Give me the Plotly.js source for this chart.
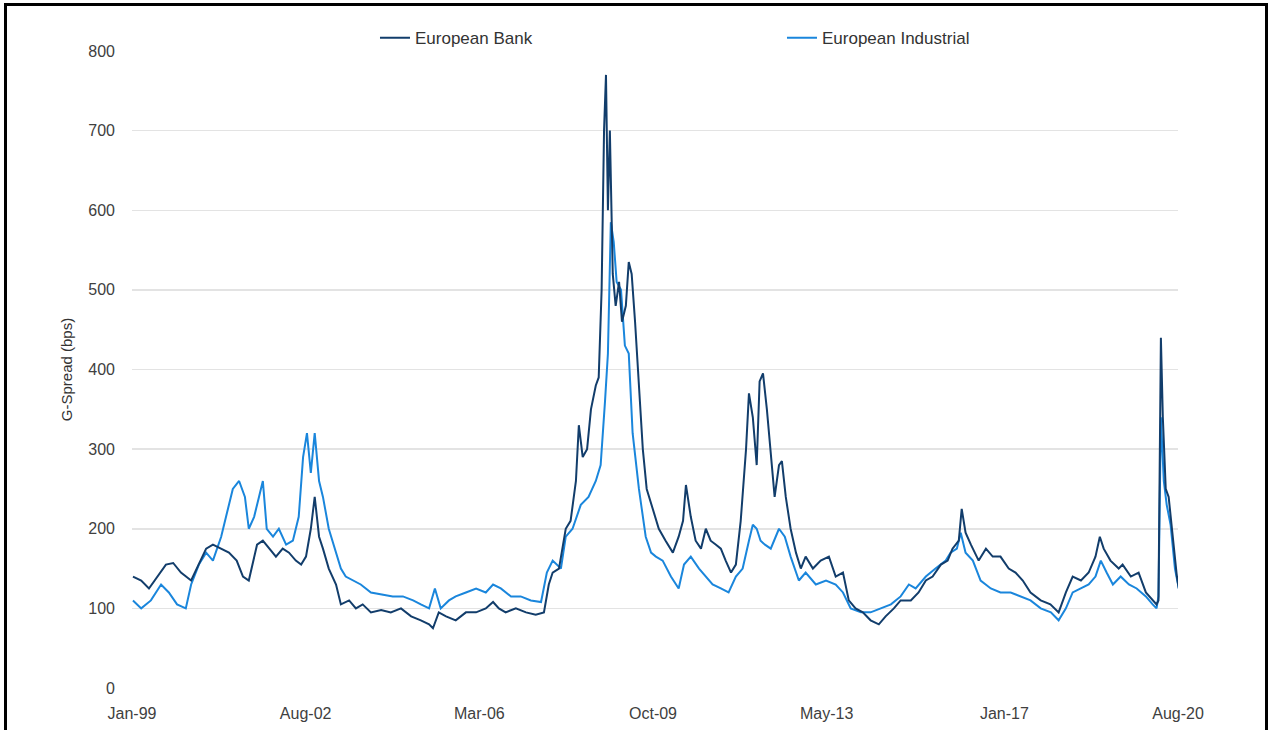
<!DOCTYPE html>
<html>
<head>
<meta charset="utf-8">
<script src="https://cdn.plot.ly/plotly-3.0.1.min.js"></script>
<style>
  html, body { margin: 0; padding: 0; background: #fff; }
  #wrap { position: relative; width: 1268px; height: 730px; overflow: hidden; }
  #chart { position: absolute; left: 0; top: 0; width: 1268px; height: 730px; }
  .frame { position: absolute; background: #000; }
</style>
</head>
<body>
<div id="wrap">
  <div id="chart"></div>
  <div class="frame" style="left:4px; top:3px; width:3px; height:727px;"></div>
  <div class="frame" style="left:4px; top:3px; width:1264px; height:3px;"></div>
  <div class="frame" style="left:1265px; top:3px; width:3px; height:727px;"></div>
</div>
<script>
// Tick labels (x axis, decimal-year positions and their labels)
const tickYears = [1999.0, 2002.583, 2006.167, 2009.75, 2013.333, 2017.0, 2020.583];
const tickLabels = ["Jan-99", "Aug-02", "Mar-06", "Oct-09", "May-13", "Jan-17", "Aug-20"];

// European Bank G-spread (bps)
const bankDates = [1999.02,1999.19,1999.35,1999.52,1999.70,1999.85,2000.01,2000.22,2000.34,2000.53,2000.67,2000.84,2001.00,2001.16,2001.29,2001.41,2001.58,2001.70,2001.83,2001.97,2002.11,2002.24,2002.38,2002.49,2002.59,2002.69,2002.77,2002.86,2002.94,2003.06,2003.21,2003.31,2003.48,2003.62,2003.76,2003.93,2004.14,2004.34,2004.55,2004.76,2004.96,2005.13,2005.21,2005.33,2005.48,2005.68,2005.89,2006.10,2006.30,2006.45,2006.57,2006.71,2006.92,2007.13,2007.33,2007.50,2007.60,2007.68,2007.81,2007.95,2008.05,2008.16,2008.22,2008.30,2008.39,2008.47,2008.57,2008.63,2008.69,2008.74,2008.78,2008.82,2008.86,2008.92,2008.98,2009.05,2009.11,2009.19,2009.25,2009.31,2009.38,2009.46,2009.54,2009.62,2009.75,2009.87,2010.01,2010.16,2010.28,2010.37,2010.43,2010.53,2010.63,2010.74,2010.84,2010.94,2011.05,2011.15,2011.25,2011.36,2011.46,2011.56,2011.67,2011.73,2011.81,2011.89,2011.95,2012.02,2012.10,2012.18,2012.26,2012.35,2012.41,2012.49,2012.59,2012.70,2012.80,2012.90,2013.05,2013.21,2013.38,2013.52,2013.67,2013.79,2013.93,2014.08,2014.24,2014.41,2014.55,2014.72,2014.86,2015.07,2015.23,2015.38,2015.52,2015.69,2015.83,2015.93,2016.06,2016.12,2016.20,2016.31,2016.47,2016.62,2016.76,2016.92,2017.09,2017.23,2017.38,2017.54,2017.75,2017.95,2018.12,2018.27,2018.41,2018.58,2018.74,2018.88,2018.97,2019.05,2019.19,2019.36,2019.44,2019.61,2019.77,2019.92,2020.06,2020.14,2020.18,2020.23,2020.27,2020.33,2020.39,2020.47,2020.56,2020.60];
const bankSpread = [140,135,125,140,155,157,145,135,150,175,180,175,170,160,140,135,180,185,175,165,175,170,160,155,165,200,240,190,175,150,130,105,110,100,105,95,98,95,100,90,85,80,75,95,90,85,95,95,100,108,100,95,100,95,92,95,130,145,150,200,210,260,330,290,300,350,380,390,500,700,770,600,700,520,480,510,460,480,535,520,460,380,300,250,225,200,185,170,190,210,255,215,185,175,200,185,180,175,160,145,155,210,300,370,340,280,385,395,350,290,240,280,285,240,200,170,150,165,150,160,165,140,145,110,100,95,85,80,90,100,110,110,120,135,140,155,160,175,185,225,195,180,160,175,165,165,150,145,135,120,110,105,95,120,140,135,145,165,190,175,160,150,155,140,145,120,110,105,110,440,340,250,240,190,140,125];

// European Industrial G-spread (bps)
const indDates = [1999.02,1999.19,1999.39,1999.60,1999.76,1999.93,2000.11,2000.22,2000.38,2000.53,2000.67,2000.84,2000.96,2001.08,2001.21,2001.33,2001.41,2001.52,2001.62,2001.70,2001.78,2001.91,2002.03,2002.18,2002.32,2002.44,2002.53,2002.61,2002.69,2002.77,2002.86,2002.94,2003.06,2003.19,2003.31,2003.41,2003.56,2003.72,2003.93,2004.14,2004.38,2004.59,2004.80,2004.96,2005.13,2005.25,2005.37,2005.54,2005.68,2005.89,2006.10,2006.30,2006.45,2006.61,2006.82,2007.02,2007.23,2007.44,2007.56,2007.68,2007.85,2007.95,2008.09,2008.26,2008.42,2008.57,2008.67,2008.76,2008.82,2008.88,2008.94,2009.00,2009.09,2009.17,2009.25,2009.33,2009.46,2009.60,2009.71,2009.81,2009.95,2010.12,2010.28,2010.39,2010.53,2010.70,2010.84,2010.98,2011.15,2011.31,2011.46,2011.60,2011.73,2011.81,2011.89,2011.97,2012.06,2012.18,2012.35,2012.47,2012.59,2012.76,2012.90,2013.11,2013.32,2013.52,2013.67,2013.83,2014.04,2014.24,2014.45,2014.66,2014.86,2015.03,2015.17,2015.38,2015.58,2015.79,2015.89,2016.02,2016.10,2016.20,2016.35,2016.51,2016.72,2016.92,2017.13,2017.34,2017.54,2017.75,2017.96,2018.12,2018.27,2018.41,2018.58,2018.74,2018.88,2018.99,2019.11,2019.24,2019.40,2019.57,2019.73,2019.92,2020.06,2020.14,2020.18,2020.23,2020.29,2020.35,2020.43,2020.52,2020.60];
const indSpread = [110,100,110,130,120,105,100,130,155,170,160,190,220,250,260,240,200,215,240,260,200,190,200,180,185,215,290,320,270,320,260,240,200,175,150,140,135,130,120,118,115,115,110,105,100,125,100,110,115,120,125,120,130,125,115,115,110,108,145,160,150,190,200,230,240,260,280,360,420,585,560,510,500,430,420,320,250,190,170,165,160,140,125,155,165,150,140,130,125,120,140,150,185,205,200,185,180,175,200,190,165,135,145,130,135,130,120,100,95,95,100,105,115,130,125,140,150,160,170,175,195,170,160,135,125,120,120,115,110,100,95,85,100,120,125,130,140,160,145,130,140,130,125,115,105,100,115,340,260,230,205,150,125];

const seriesNames = ["European Bank", "European Industrial"];
const seriesColors = ["#123d6b", "#1a86dc"];

// Industrial drawn first so Bank sits on top; each series has its own legend box
const traces = [
  { x: indDates, y: indSpread, name: seriesNames[1], type: "scatter", mode: "lines",
    line: { color: seriesColors[1], width: 2 }, legend: "legend2" },
  { x: bankDates, y: bankSpread, name: seriesNames[0], type: "scatter", mode: "lines",
    line: { color: seriesColors[0], width: 2 }, legend: "legend" }
];

const legendFont = { family: "Liberation Sans Narrow, Arial Narrow, Liberation Sans, sans-serif", size: 17, color: "#333333" };

const layout = {
  width: 1268, height: 730,
  margin: { l: 132, r: 90, t: 51, b: 42 },
  paper_bgcolor: "#ffffff", plot_bgcolor: "#ffffff",
  font: { family: "Liberation Sans, Arial, sans-serif", color: "#404040", size: 16 },
  showlegend: true,
  legend: {
    orientation: "h", x: 0.2323, xanchor: "left", y: 1.02, yanchor: "middle",
    font: legendFont, bgcolor: "rgba(0,0,0,0)"
  },
  legend2: {
    orientation: "h", x: 0.6214, xanchor: "left", y: 1.02, yanchor: "middle",
    font: legendFont, bgcolor: "rgba(0,0,0,0)"
  },
  xaxis: {
    range: [1999.0, 2020.583], tickmode: "array", tickvals: tickYears, ticktext: tickLabels,
    showgrid: false, zeroline: false, showline: false, ticks: "",
    ticklabelstandoff: 14, tickfont: { size: 16, color: "#404040" }
  },
  yaxis: {
    range: [0, 800], tickvals: [0,100,200,300,400,500,600,700,800],
    showgrid: true, gridcolor: "#e3e3e3", gridwidth: 1.5, zeroline: false, showline: false, ticks: "",
    ticklabelstandoff: 16, tickfont: { size: 16, color: "#404040" },
    title: { text: "G-Spread (bps)", standoff: 12, font: { size: 15, color: "#333333" } }
  }
};

Plotly.newPlot("chart", traces, layout, { displayModeBar: false, staticPlot: true });
</script>
</body>
</html>
